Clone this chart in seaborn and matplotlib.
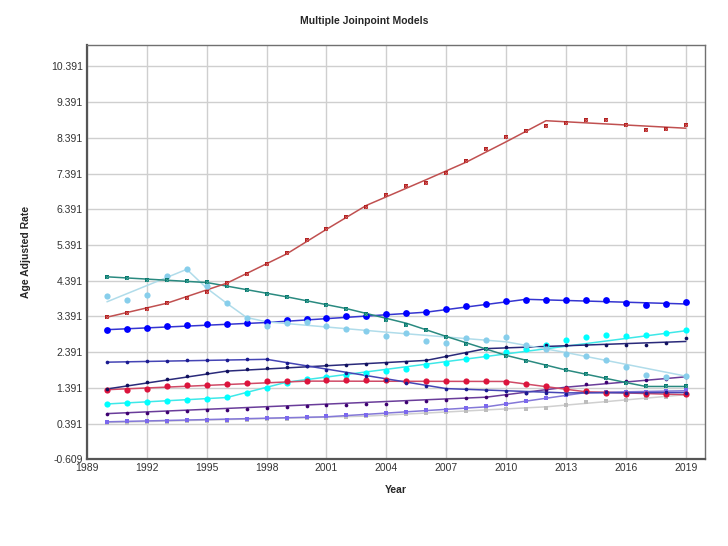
import numpy as np
import pandas as pd
import matplotlib
matplotlib.use("Agg")
import matplotlib.pyplot as plt
import seaborn as sns

years = list(range(1990, 2020))

# observed rates, one list per series
red_obs = [3.38, 3.50, 3.61, 3.77, 3.91, 4.07, 4.33, 4.58, 4.85, 5.16, 5.54, 5.85, 6.17, 6.46, 6.80,
           7.03, 7.14, 7.40, 7.73, 8.07, 8.41, 8.58, 8.71, 8.81, 8.89, 8.89, 8.74, 8.60, 8.63, 8.74]
teal_obs = [4.50, 4.46, 4.41, 4.42, 4.38, 4.35, 4.25, 4.13, 4.03, 3.93, 3.83, 3.72, 3.60, 3.45, 3.29,
            3.15, 3.00, 2.81, 2.63, 2.47, 2.27, 2.14, 2.01, 1.89, 1.77, 1.66, 1.52, 1.43, 1.43, 1.44]
skyblue_obs = [3.97, 3.86, 4.00, 4.53, 4.71, 4.24, 3.77, 3.35, 3.13, 3.22, 3.24, 3.11, 3.04, 2.99, 2.83,
               2.92, 2.71, 2.65, 2.78, 2.73, 2.81, 2.60, 2.49, 2.35, 2.28, 2.16, 1.98, 1.74, 1.70, 1.72]
blue_obs = [3.02, 3.05, 3.08, 3.12, 3.15, 3.17, 3.18, 3.20, 3.23, 3.28, 3.33, 3.36, 3.39, 3.41, 3.46,
            3.50, 3.52, 3.59, 3.67, 3.75, 3.81, 3.86, 3.86, 3.86, 3.86, 3.84, 3.77, 3.71, 3.74, 3.79]
navy_a_obs = [2.11, 2.11, 2.13, 2.15, 2.17, 2.18, 2.18, 2.19, 2.19, 2.08, 2.00, 1.89, 1.80, 1.71, 1.62,
              1.53, 1.44, 1.37, 1.35, 1.34, 1.30, 1.26, 1.25, 1.23, 1.27, 1.27, 1.25, 1.26, 1.27, 1.26]
navy_b_obs = [1.36, 1.46, 1.55, 1.64, 1.72, 1.80, 1.86, 1.92, 1.95, 1.97, 2.00, 2.02, 2.04, 2.06, 2.08,
              2.12, 2.17, 2.28, 2.38, 2.49, 2.54, 2.56, 2.58, 2.59, 2.59, 2.59, 2.59, 2.58, 2.65, 2.80]
crimson_obs = [1.34, 1.34, 1.37, 1.44, 1.46, 1.48, 1.51, 1.54, 1.57, 1.57, 1.58, 1.60, 1.60, 1.60, 1.60,
               1.58, 1.58, 1.58, 1.58, 1.58, 1.56, 1.51, 1.43, 1.35, 1.29, 1.25, 1.23, 1.21, 1.21, 1.21]
cyan_obs = [0.94, 0.97, 0.99, 1.02, 1.05, 1.08, 1.13, 1.25, 1.38, 1.53, 1.64, 1.69, 1.75, 1.81, 1.86,
            1.93, 2.02, 2.09, 2.19, 2.29, 2.39, 2.47, 2.59, 2.73, 2.82, 2.86, 2.85, 2.86, 2.92, 3.02]
indigo_obs = [0.67, 0.68, 0.70, 0.72, 0.74, 0.76, 0.77, 0.81, 0.84, 0.85, 0.87, 0.90, 0.92, 0.94, 0.95,
              0.99, 1.03, 1.06, 1.10, 1.14, 1.19, 1.26, 1.32, 1.42, 1.50, 1.55, 1.58, 1.61, 1.64, 1.70]
purple_obs = [0.44, 0.45, 0.46, 0.47, 0.48, 0.49, 0.50, 0.53, 0.55, 0.56, 0.57, 0.59, 0.62, 0.64, 0.68,
              0.72, 0.76, 0.78, 0.82, 0.88, 0.93, 1.02, 1.10, 1.20, 1.27, 1.28, 1.27, 1.28, 1.30, 1.32]
gray_obs = [0.42, 0.42, 0.43, 0.44, 0.45, 0.46, 0.47, 0.49, 0.51, 0.52, 0.54, 0.56, 0.58, 0.60, 0.63,
            0.66, 0.69, 0.71, 0.73, 0.76, 0.80, 0.81, 0.84, 0.91, 0.99, 1.03, 1.06, 1.10, 1.14, 1.20]

# fitted joinpoint models: (years, values)
red_fit = ([1990, 1993, 1996, 1999, 2001, 2003, 2004, 2006, 2008, 2010, 2012, 2019],
           [3.37, 3.76, 4.32, 5.14, 5.83, 6.50, 6.74, 7.22, 7.71, 8.28, 8.87, 8.66])
teal_fit = ([1990, 1995, 1999, 2002, 2005, 2007, 2010, 2013, 2016, 2017, 2019],
            [4.50, 4.34, 3.94, 3.61, 3.20, 2.83, 2.30, 1.89, 1.54, 1.43, 1.43])
skyblue_fit = ([1990, 1994, 1995, 1996, 1997, 1998, 2004, 2010, 2013, 2016, 2019],
               [3.80, 4.71, 4.18, 3.76, 3.36, 3.24, 2.95, 2.68, 2.38, 2.05, 1.72])
blue_fit = ([1990, 1998, 2006, 2011, 2019], [3.02, 3.22, 3.51, 3.87, 3.74])
navy_a_fit = ([1990, 1998, 2007, 2013, 2019], [2.11, 2.19, 1.37, 1.25, 1.26])
navy_b_fit = ([1990, 1996, 2006, 2009, 2019], [1.36, 1.86, 2.16, 2.49, 2.69])
crimson_fit = ([1990, 2000, 2010, 2014, 2019], [1.34, 1.58, 1.57, 1.28, 1.20])
cyan_fit = ([1990, 1996, 1999, 2019], [0.94, 1.12, 1.55, 2.99])
indigo_fit = ([1990, 2009, 2013, 2019], [0.67, 1.13, 1.41, 1.70])
purple_fit = ([1990, 2001, 2009, 2014, 2019], [0.44, 0.58, 0.86, 1.26, 1.31])
gray_fit = ([1990, 2003, 2012, 2019], [0.42, 0.60, 0.86, 1.20])

# name: (obs, fit, line colour, marker colour, marker, marker size)
series = {
    "gray": (gray_obs, gray_fit, "#d0d0d0", "#bdbdbd", "s", 9),
    "purple": (purple_obs, purple_fit, "#8478d8", "#7b68ee", "s", 9),
    "indigo": (indigo_obs, indigo_fit, "#6a3d9a", "#3d0070", "o", 7),
    "cyan": (cyan_obs, cyan_fit, "#3ee8e8", "#00ffff", "o", 20),
    "crimson": (crimson_obs, crimson_fit, "#d04a66", "#dc143c", "o", 20),
    "navy_b": (navy_b_obs, navy_b_fit, "#2a2a7a", "#10105e", "o", 7),
    "navy_a": (navy_a_obs, navy_a_fit, "#4545b5", "#1a1a90", "o", 7),
    "blue": (blue_obs, blue_fit, "#3535d0", "#0000ff", "o", 24),
    "skyblue": (skyblue_obs, skyblue_fit, "#b0dcea", "#87ceeb", "o", 20),
    "teal": (teal_obs, teal_fit, "#2a8a80", "#0a7a70", "s", 11),
    "red": (red_obs, red_fit, "#c05050", "#b22222", "s", 11),
}
# series whose square markers carry a faint cross inside
crossed = {"teal": "#4aa89c", "red": "#d86a6a"}

sns.set_style("white")
plt.rcParams["font.family"] = ["Liberation Sans", "DejaVu Sans"]

fig = plt.figure(figsize=(7.28, 5.46), dpi=100)
ax = fig.add_axes([0.1195, 0.1588, 0.8485, 0.7588])

for name, (obs, fit, lc, mc, mk, ms) in series.items():
    fit_df = pd.DataFrame({"Year": fit[0], "Rate": fit[1]})
    obs_df = pd.DataFrame({"Year": years, "Rate": obs})
    sns.lineplot(data=fit_df, x="Year", y="Rate", color=lc, linewidth=1.1, ax=ax)
    sns.scatterplot(data=obs_df, x="Year", y="Rate", color=mc, marker=mk, s=ms,
                    linewidth=0, ax=ax, zorder=3)
    if name in crossed:
        ax.scatter(obs_df["Year"], obs_df["Rate"], marker="x", s=4, linewidths=0.5,
                   color=crossed[name], zorder=4)

yticks = [-0.609 + k for k in range(12)]
ax.set_yticks(yticks)
ax.set_yticklabels([f"{t:.3f}" for t in yticks])
ax.set_xticks(list(range(1989, 2020, 3)))
ax.set_xlim(1989, 2019.95)
ax.set_ylim(-0.609, 10.99)

ax.grid(True, color="#cfcfcf", linewidth=1.0)
ax.set_axisbelow(True)
ax.tick_params(axis="both", length=0, labelsize=7.5, colors="#333333", pad=3)
for side in ["left", "bottom"]:
    ax.spines[side].set_color("#555555")
    ax.spines[side].set_linewidth(1.6)
for side in ["top", "right"]:
    ax.spines[side].set_color("#707070")
    ax.spines[side].set_linewidth(1.0)

ax.set_xlabel("Year", fontsize=7.5, fontweight="bold", labelpad=8)
ax.set_ylabel("Age Adjusted Rate", fontsize=7.5, fontweight="bold", labelpad=14)
fig.suptitle("Multiple Joinpoint Models", fontsize=7.5, fontweight="bold", x=0.5, y=0.97)

fig.savefig("out.png", dpi=100)
